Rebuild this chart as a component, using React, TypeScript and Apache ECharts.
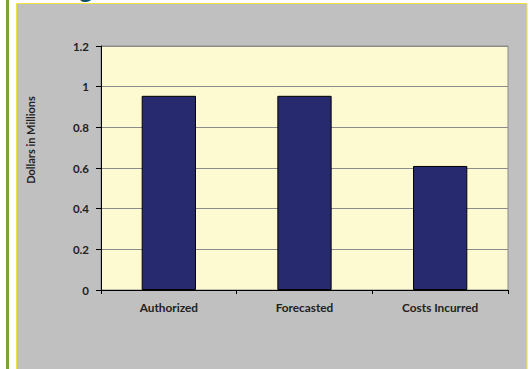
import React, { useEffect, useRef } from "react";
import * as echarts from "echarts";

const categories: string[] = ["Authorized", "Forecasted", "Costs Incurred"];
const values: number[] = [0.955, 0.955, 0.61];
const yAxisTitle = "Dollars in Millions";

export default function App() {
  const ref = useRef<HTMLDivElement>(null);
  useEffect(() => {
    if (!ref.current) return;
    const chart = echarts.init(ref.current, undefined, { renderer: "svg" });
    const font = "Lato, 'Open Sans', sans-serif";
    chart.setOption({
      animation: false,
      backgroundColor: "#ffffff",
      graphic: [
        { type: "rect", shape: { x: 6, y: 0, width: 3, height: 369 }, style: { fill: "#7aa23c" }, z: 0 },
        {
          type: "rect",
          shape: { x: 16.5, y: 3.5, width: 510.5, height: 370 },
          style: { fill: "#c0c0c0", stroke: "#f0e040", lineWidth: 1 },
          z: -10,
          silent: true,
        },
        {
          type: "text",
          x: 79,
          y: 1,
          style: { text: "g", fill: "#0f4f66", font: "bold 26px " + font, textAlign: "left", textVerticalAlign: "bottom" },
          z: 10,
        },
        {
          type: "text",
          x: 30,
          y: 140,
          rotation: Math.PI / 2,
          style: {
            text: yAxisTitle,
            fill: "#222222",
            font: "bold 11px " + font,
            textAlign: "center",
            textVerticalAlign: "middle",
          },
          z: 10,
        },
      ],
      grid: {
        left: 101,
        top: 46,
        right: 21,
        bottom: 79,
        show: true,
        backgroundColor: "#fdf9d1",
        borderColor: "#8a8a8a",
        borderWidth: 1,
        containLabel: false,
      },
      xAxis: {
        type: "category",
        data: categories,
        boundaryGap: true,
        axisLine: { show: true, lineStyle: { color: "#000000", width: 1 } },
        axisTick: { show: true, alignWithLabel: false, length: 4, lineStyle: { color: "#000000" } },
        axisLabel: { color: "#222222", fontFamily: font, fontWeight: "bold", fontSize: 11.8, margin: 11 },
        splitLine: { show: false },
      },
      yAxis: {
        type: "value",
        min: 0,
        max: 1.2,
        interval: 0.2,
        axisLine: { show: true, lineStyle: { color: "#000000", width: 1 } },
        axisTick: { show: true, length: 5, lineStyle: { color: "#000000" } },
        axisLabel: { color: "#222222", fontFamily: font, fontWeight: "bold", fontSize: 11.5, margin: 12 },
        splitLine: { show: true, lineStyle: { color: "#8c8c8c", width: 1 } },
      },
      series: [
        {
          type: "bar",
          data: values,
          barWidth: "40%",
          itemStyle: { color: "#272a6f", borderColor: "#000000", borderWidth: 1 },
        },
      ],
    });
    return () => chart.dispose();
  }, []);
  return (
    <div
      ref={ref}
      style={{ position: "absolute", left: 0, top: 0, width: 529, height: 369 }}
    />
  );
}
